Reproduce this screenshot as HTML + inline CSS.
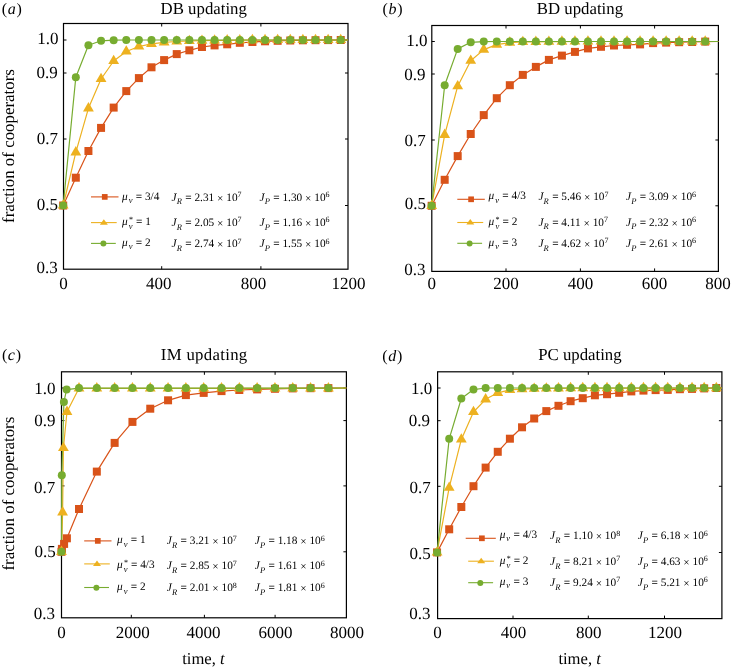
<!DOCTYPE html>
<html><head><meta charset="utf-8"><style>
html,body{margin:0;padding:0;background:#fff;}
svg{display:block;will-change:transform;}
text{font-family:"Liberation Serif",serif;fill:#000;-webkit-font-smoothing:antialiased;text-rendering:geometricPrecision;}
</style></head><body>
<svg width="731" height="668" viewBox="0 0 731 668">
<rect width="731" height="668" fill="#fff"/>
<rect x="63.5" y="23.5" width="284.5" height="245.7" fill="none" stroke="#000" stroke-width="1.2"/>
<path d="M63.5,40.0h3M348,40.0h-3" stroke="#000" stroke-width="1"/>
<path d="M63.5,73.0h3M348,73.0h-3" stroke="#000" stroke-width="1"/>
<path d="M63.5,139.0h3M348,139.0h-3" stroke="#000" stroke-width="1"/>
<path d="M63.5,205.5h3M348,205.5h-3" stroke="#000" stroke-width="1"/>
<path d="M161.7,269.2v-3M161.7,23.5v3" stroke="#000" stroke-width="1"/>
<path d="M260.9,269.2v-3M260.9,23.5v3" stroke="#000" stroke-width="1"/>
<text x="58.4" y="43.9" font-size="17" text-anchor="end" >1.0</text>
<text x="57.8" y="77.80000000000001" font-size="17" text-anchor="end" >0.9</text>
<text x="58.0" y="144.1" font-size="17" text-anchor="end" >0.7</text>
<text x="58.0" y="210.0" font-size="17" text-anchor="end" >0.5</text>
<text x="57.8" y="272.79999999999995" font-size="17" text-anchor="end" >0.3</text>
<text x="63.5" y="288.7" font-size="17" text-anchor="middle" >0</text>
<text x="158.65" y="288.7" font-size="17" text-anchor="middle" >400</text>
<text x="253.4" y="288.7" font-size="17" text-anchor="middle" >800</text>
<text x="348.5" y="288.7" font-size="17" text-anchor="middle" >1200</text>
<polyline points="63.20,205.50 75.81,177.70 88.43,151.00 101.05,127.90 113.66,107.60 126.28,91.10 138.89,78.10 151.50,67.30 164.12,60.10 176.74,54.10 189.35,50.30 201.97,47.00 214.58,45.40 227.19,44.30 239.81,42.80 252.43,42.00 265.04,41.30 277.66,40.80 290.27,40.50 302.88,40.30 315.50,40.20 328.12,40.10 340.73,40.00 348.00,40.00" fill="none" stroke="#D95319" stroke-width="1.2" stroke-linejoin="round"/>
<polyline points="63.20,205.50 75.81,152.30 88.43,108.30 101.05,79.00 113.66,61.00 126.28,51.50 138.89,46.50 151.50,43.80 164.12,42.30 176.74,41.50 189.35,41.00 201.97,40.70 214.58,40.50 227.19,40.30 239.81,40.20 252.43,40.10 265.04,40.10 277.66,40.00 290.27,40.00 302.88,40.00 315.50,40.00 328.12,40.00 340.73,40.00 348.00,40.00" fill="none" stroke="#EDB120" stroke-width="1.2" stroke-linejoin="round"/>
<polyline points="63.20,205.50 75.81,77.30 88.43,45.30 101.05,40.80 113.66,40.20 126.28,40.00 138.89,40.00 151.50,40.00 164.12,40.00 176.74,40.00 189.35,40.00 201.97,40.00 214.58,40.00 227.19,40.00 239.81,40.00 252.43,40.00 265.04,40.00 277.66,40.00 290.27,40.00 302.88,40.00 315.50,40.00 328.12,40.00 340.73,40.00 348.00,40.00" fill="none" stroke="#77AC30" stroke-width="1.2" stroke-linejoin="round"/>
<rect x="59.20" y="201.50" width="8" height="8" fill="#D95319"/>
<rect x="71.81" y="173.70" width="8" height="8" fill="#D95319"/>
<rect x="84.43" y="147.00" width="8" height="8" fill="#D95319"/>
<rect x="97.05" y="123.90" width="8" height="8" fill="#D95319"/>
<rect x="109.66" y="103.60" width="8" height="8" fill="#D95319"/>
<rect x="122.28" y="87.10" width="8" height="8" fill="#D95319"/>
<rect x="134.89" y="74.10" width="8" height="8" fill="#D95319"/>
<rect x="147.50" y="63.30" width="8" height="8" fill="#D95319"/>
<rect x="160.12" y="56.10" width="8" height="8" fill="#D95319"/>
<rect x="172.74" y="50.10" width="8" height="8" fill="#D95319"/>
<rect x="185.35" y="46.30" width="8" height="8" fill="#D95319"/>
<rect x="197.97" y="43.00" width="8" height="8" fill="#D95319"/>
<rect x="210.58" y="41.40" width="8" height="8" fill="#D95319"/>
<rect x="223.19" y="40.30" width="8" height="8" fill="#D95319"/>
<rect x="235.81" y="38.80" width="8" height="8" fill="#D95319"/>
<rect x="248.43" y="38.00" width="8" height="8" fill="#D95319"/>
<rect x="261.04" y="37.30" width="8" height="8" fill="#D95319"/>
<rect x="273.66" y="36.80" width="8" height="8" fill="#D95319"/>
<rect x="286.27" y="36.50" width="8" height="8" fill="#D95319"/>
<rect x="298.88" y="36.30" width="8" height="8" fill="#D95319"/>
<rect x="311.50" y="36.20" width="8" height="8" fill="#D95319"/>
<rect x="324.12" y="36.10" width="8" height="8" fill="#D95319"/>
<rect x="336.73" y="36.00" width="8" height="8" fill="#D95319"/>
<polygon points="63.20,199.25 57.79,208.62 68.61,208.62" fill="#EDB120"/>
<polygon points="75.81,146.05 70.40,155.43 81.23,155.43" fill="#EDB120"/>
<polygon points="88.43,102.05 83.02,111.42 93.84,111.42" fill="#EDB120"/>
<polygon points="101.05,72.75 95.63,82.12 106.46,82.12" fill="#EDB120"/>
<polygon points="113.66,54.75 108.25,64.12 119.07,64.12" fill="#EDB120"/>
<polygon points="126.28,45.25 120.86,54.62 131.69,54.62" fill="#EDB120"/>
<polygon points="138.89,40.25 133.48,49.62 144.30,49.62" fill="#EDB120"/>
<polygon points="151.50,37.55 146.09,46.92 156.92,46.92" fill="#EDB120"/>
<polygon points="164.12,36.05 158.71,45.42 169.53,45.42" fill="#EDB120"/>
<polygon points="176.74,35.25 171.32,44.62 182.15,44.62" fill="#EDB120"/>
<polygon points="189.35,34.75 183.94,44.12 194.76,44.12" fill="#EDB120"/>
<polygon points="201.97,34.45 196.55,43.83 207.38,43.83" fill="#EDB120"/>
<polygon points="214.58,34.25 209.17,43.62 219.99,43.62" fill="#EDB120"/>
<polygon points="227.19,34.05 221.78,43.42 232.61,43.42" fill="#EDB120"/>
<polygon points="239.81,33.95 234.40,43.33 245.22,43.33" fill="#EDB120"/>
<polygon points="252.43,33.85 247.01,43.23 257.84,43.23" fill="#EDB120"/>
<polygon points="265.04,33.85 259.63,43.23 270.45,43.23" fill="#EDB120"/>
<polygon points="277.66,33.75 272.24,43.12 283.07,43.12" fill="#EDB120"/>
<polygon points="290.27,33.75 284.86,43.12 295.68,43.12" fill="#EDB120"/>
<polygon points="302.88,33.75 297.47,43.12 308.30,43.12" fill="#EDB120"/>
<polygon points="315.50,33.75 310.09,43.12 320.91,43.12" fill="#EDB120"/>
<polygon points="328.12,33.75 322.70,43.12 333.53,43.12" fill="#EDB120"/>
<polygon points="340.73,33.75 335.32,43.12 346.14,43.12" fill="#EDB120"/>
<circle cx="63.20" cy="205.50" r="4" fill="#77AC30"/>
<circle cx="75.81" cy="77.30" r="4" fill="#77AC30"/>
<circle cx="88.43" cy="45.30" r="4" fill="#77AC30"/>
<circle cx="101.05" cy="40.80" r="4" fill="#77AC30"/>
<circle cx="113.66" cy="40.20" r="4" fill="#77AC30"/>
<circle cx="126.28" cy="40.00" r="4" fill="#77AC30"/>
<circle cx="138.89" cy="40.00" r="4" fill="#77AC30"/>
<circle cx="151.50" cy="40.00" r="4" fill="#77AC30"/>
<circle cx="164.12" cy="40.00" r="4" fill="#77AC30"/>
<circle cx="176.74" cy="40.00" r="4" fill="#77AC30"/>
<circle cx="189.35" cy="40.00" r="4" fill="#77AC30"/>
<circle cx="201.97" cy="40.00" r="4" fill="#77AC30"/>
<circle cx="214.58" cy="40.00" r="4" fill="#77AC30"/>
<circle cx="227.19" cy="40.00" r="4" fill="#77AC30"/>
<circle cx="239.81" cy="40.00" r="4" fill="#77AC30"/>
<circle cx="252.43" cy="40.00" r="4" fill="#77AC30"/>
<circle cx="265.04" cy="40.00" r="4" fill="#77AC30"/>
<circle cx="277.66" cy="40.00" r="4" fill="#77AC30"/>
<circle cx="290.27" cy="40.00" r="4" fill="#77AC30"/>
<circle cx="302.88" cy="40.00" r="4" fill="#77AC30"/>
<circle cx="315.50" cy="40.00" r="4" fill="#77AC30"/>
<circle cx="328.12" cy="40.00" r="4" fill="#77AC30"/>
<circle cx="340.73" cy="40.00" r="4" fill="#77AC30"/>
<line x1="91" y1="196.9" x2="118.5" y2="196.9" stroke="#D95319" stroke-width="1.1"/>
<rect x="101.90" y="194.05" width="5.7" height="5.7" fill="#D95319"/>
<line x1="91" y1="222.6" x2="116.7" y2="222.6" stroke="#EDB120" stroke-width="1.1"/>
<polygon points="103.85,219.20 99.85,224.70 107.85,224.70" fill="#EDB120"/>
<line x1="91" y1="243.4" x2="115.8" y2="243.4" stroke="#77AC30" stroke-width="1.1"/>
<circle cx="103.40" cy="243.60" r="3.0" fill="#77AC30"/>
<text x="122" y="199.60000000000002" font-size="11.3"><tspan font-style="italic">μ</tspan><tspan font-style="italic" font-size="8.5" dx="1.0" dy="3.3">v</tspan><tspan dy="-3.3" dx="0.5"> = 3/4</tspan></text>
<text x="171.5" y="200.5" font-size="11.3"><tspan font-style="italic">J</tspan><tspan font-style="italic" font-size="8.5" dx="0.2" dy="3.8">R</tspan><tspan dy="-3.8" dx="0.5"> = 2.31 </tspan><tspan dy="1">×</tspan><tspan dy="-1"> 10</tspan><tspan font-size="8" dy="-3.4">7</tspan></text>
<text x="259.5" y="200.5" font-size="11.3"><tspan font-style="italic">J</tspan><tspan font-style="italic" font-size="8.5" dx="0.2" dy="3.8">P</tspan><tspan dy="-3.8" dx="0.5"> = 1.30 </tspan><tspan dy="1">×</tspan><tspan dy="-1"> 10</tspan><tspan font-size="8" dy="-3.4">6</tspan></text>
<text x="122" y="224.9" font-size="11.3"><tspan font-style="italic">μ</tspan><tspan font-size="8" dx="1.3" dy="-3.2">*</tspan><tspan font-style="italic" font-size="8.5" dx="-4.1" dy="7">v</tspan><tspan dy="-3.8" dx="0.5"> = 1</tspan></text>
<text x="171.5" y="225.79999999999998" font-size="11.3"><tspan font-style="italic">J</tspan><tspan font-style="italic" font-size="8.5" dx="0.2" dy="3.8">R</tspan><tspan dy="-3.8" dx="0.5"> = 2.05 </tspan><tspan dy="1">×</tspan><tspan dy="-1"> 10</tspan><tspan font-size="8" dy="-3.4">7</tspan></text>
<text x="259.5" y="225.79999999999998" font-size="11.3"><tspan font-style="italic">J</tspan><tspan font-style="italic" font-size="8.5" dx="0.2" dy="3.8">P</tspan><tspan dy="-3.8" dx="0.5"> = 1.16 </tspan><tspan dy="1">×</tspan><tspan dy="-1"> 10</tspan><tspan font-size="8" dy="-3.4">6</tspan></text>
<text x="122" y="246.0" font-size="11.3"><tspan font-style="italic">μ</tspan><tspan font-style="italic" font-size="8.5" dx="1.0" dy="3.3">v</tspan><tspan dy="-3.3" dx="0.5"> = 2</tspan></text>
<text x="171.5" y="246.89999999999998" font-size="11.3"><tspan font-style="italic">J</tspan><tspan font-style="italic" font-size="8.5" dx="0.2" dy="3.8">R</tspan><tspan dy="-3.8" dx="0.5"> = 2.74 </tspan><tspan dy="1">×</tspan><tspan dy="-1"> 10</tspan><tspan font-size="8" dy="-3.4">7</tspan></text>
<text x="259.5" y="246.89999999999998" font-size="11.3"><tspan font-style="italic">J</tspan><tspan font-style="italic" font-size="8.5" dx="0.2" dy="3.8">P</tspan><tspan dy="-3.8" dx="0.5"> = 1.55 </tspan><tspan dy="1">×</tspan><tspan dy="-1"> 10</tspan><tspan font-size="8" dy="-3.4">6</tspan></text>
<text x="160.6" y="14.0" font-size="16.8" text-anchor="start" >DB updating</text>
<text x="1.8" y="14.1" font-size="16">(<tspan font-style="italic" dx="0.6">a</tspan><tspan dx="0.8">)</tspan></text>
<text transform="translate(14.3,146) rotate(-90)" font-size="16.9" text-anchor="middle">fraction of cooperators</text>
<rect x="431.8" y="25.5" width="286.59999999999997" height="245.89999999999998" fill="none" stroke="#000" stroke-width="1.2"/>
<path d="M431.8,41.5h3M718.4,41.5h-3" stroke="#000" stroke-width="1"/>
<path d="M431.8,74.0h3M718.4,74.0h-3" stroke="#000" stroke-width="1"/>
<path d="M431.8,140.0h3M718.4,140.0h-3" stroke="#000" stroke-width="1"/>
<path d="M431.8,205.8h3M718.4,205.8h-3" stroke="#000" stroke-width="1"/>
<path d="M506,271.4v-3M506,25.5v3" stroke="#000" stroke-width="1"/>
<path d="M580.4,271.4v-3M580.4,25.5v3" stroke="#000" stroke-width="1"/>
<path d="M654.6,271.4v-3M654.6,25.5v3" stroke="#000" stroke-width="1"/>
<text x="427.4" y="45.699999999999996" font-size="17" text-anchor="end" >1.0</text>
<text x="425.59999999999997" y="80.0" font-size="17" text-anchor="end" >0.9</text>
<text x="425.7" y="146.1" font-size="17" text-anchor="end" >0.7</text>
<text x="425.9" y="209.3" font-size="17" text-anchor="end" >0.5</text>
<text x="425.59999999999997" y="274.5" font-size="17" text-anchor="end" >0.3</text>
<text x="431.8" y="288.8" font-size="17" text-anchor="middle" >0</text>
<text x="506" y="288.8" font-size="17" text-anchor="middle" >200</text>
<text x="580.4" y="288.8" font-size="17" text-anchor="middle" >400</text>
<text x="654.6" y="288.8" font-size="17" text-anchor="middle" >600</text>
<text x="718.1" y="288.8" font-size="17" text-anchor="middle" >800</text>
<polyline points="431.65,205.80 444.68,179.80 457.70,156.10 470.73,134.00 483.75,115.10 496.78,98.20 509.81,85.20 522.83,74.90 535.86,66.90 548.88,59.90 561.91,55.60 574.94,51.90 587.96,48.40 600.99,46.80 614.01,45.50 627.04,44.80 640.07,44.40 653.09,43.10 666.12,42.60 679.14,42.20 692.17,42.00 705.20,41.60 718.40,41.50" fill="none" stroke="#D95319" stroke-width="1.2" stroke-linejoin="round"/>
<polyline points="431.65,205.80 444.68,134.80 457.70,86.20 470.73,60.70 483.75,49.60 496.78,44.60 509.81,42.60 522.83,42.00 535.86,41.80 548.88,41.70 561.91,41.60 574.94,41.50 587.96,41.50 600.99,41.50 614.01,41.50 627.04,41.50 640.07,41.50 653.09,41.50 666.12,41.50 679.14,41.50 692.17,41.50 705.20,41.50 718.40,41.50" fill="none" stroke="#EDB120" stroke-width="1.2" stroke-linejoin="round"/>
<polyline points="431.65,205.80 444.68,85.30 457.70,48.90 470.73,42.30 483.75,41.60 496.78,41.50 509.81,41.50 522.83,41.50 535.86,41.50 548.88,41.50 561.91,41.50 574.94,41.50 587.96,41.50 600.99,41.50 614.01,41.50 627.04,41.50 640.07,41.50 653.09,41.50 666.12,41.50 679.14,41.50 692.17,41.50 705.20,41.50 718.40,41.50" fill="none" stroke="#77AC30" stroke-width="1.2" stroke-linejoin="round"/>
<rect x="427.65" y="201.80" width="8" height="8" fill="#D95319"/>
<rect x="440.68" y="175.80" width="8" height="8" fill="#D95319"/>
<rect x="453.70" y="152.10" width="8" height="8" fill="#D95319"/>
<rect x="466.73" y="130.00" width="8" height="8" fill="#D95319"/>
<rect x="479.75" y="111.10" width="8" height="8" fill="#D95319"/>
<rect x="492.78" y="94.20" width="8" height="8" fill="#D95319"/>
<rect x="505.81" y="81.20" width="8" height="8" fill="#D95319"/>
<rect x="518.83" y="70.90" width="8" height="8" fill="#D95319"/>
<rect x="531.86" y="62.90" width="8" height="8" fill="#D95319"/>
<rect x="544.88" y="55.90" width="8" height="8" fill="#D95319"/>
<rect x="557.91" y="51.60" width="8" height="8" fill="#D95319"/>
<rect x="570.94" y="47.90" width="8" height="8" fill="#D95319"/>
<rect x="583.96" y="44.40" width="8" height="8" fill="#D95319"/>
<rect x="596.99" y="42.80" width="8" height="8" fill="#D95319"/>
<rect x="610.01" y="41.50" width="8" height="8" fill="#D95319"/>
<rect x="623.04" y="40.80" width="8" height="8" fill="#D95319"/>
<rect x="636.07" y="40.40" width="8" height="8" fill="#D95319"/>
<rect x="649.09" y="39.10" width="8" height="8" fill="#D95319"/>
<rect x="662.12" y="38.60" width="8" height="8" fill="#D95319"/>
<rect x="675.14" y="38.20" width="8" height="8" fill="#D95319"/>
<rect x="688.17" y="38.00" width="8" height="8" fill="#D95319"/>
<rect x="701.20" y="37.60" width="8" height="8" fill="#D95319"/>
<polygon points="431.65,199.55 426.24,208.93 437.06,208.93" fill="#EDB120"/>
<polygon points="444.68,128.55 439.26,137.93 450.09,137.93" fill="#EDB120"/>
<polygon points="457.70,79.95 452.29,89.33 463.11,89.33" fill="#EDB120"/>
<polygon points="470.73,54.45 465.32,63.83 476.14,63.83" fill="#EDB120"/>
<polygon points="483.75,43.35 478.34,52.73 489.17,52.73" fill="#EDB120"/>
<polygon points="496.78,38.35 491.37,47.73 502.19,47.73" fill="#EDB120"/>
<polygon points="509.81,36.35 504.39,45.73 515.22,45.73" fill="#EDB120"/>
<polygon points="522.83,35.75 517.42,45.12 528.24,45.12" fill="#EDB120"/>
<polygon points="535.86,35.55 530.45,44.92 541.27,44.92" fill="#EDB120"/>
<polygon points="548.88,35.45 543.47,44.83 554.30,44.83" fill="#EDB120"/>
<polygon points="561.91,35.35 556.50,44.73 567.32,44.73" fill="#EDB120"/>
<polygon points="574.94,35.25 569.52,44.62 580.35,44.62" fill="#EDB120"/>
<polygon points="587.96,35.25 582.55,44.62 593.37,44.62" fill="#EDB120"/>
<polygon points="600.99,35.25 595.58,44.62 606.40,44.62" fill="#EDB120"/>
<polygon points="614.01,35.25 608.60,44.62 619.43,44.62" fill="#EDB120"/>
<polygon points="627.04,35.25 621.63,44.62 632.45,44.62" fill="#EDB120"/>
<polygon points="640.07,35.25 634.65,44.62 645.48,44.62" fill="#EDB120"/>
<polygon points="653.09,35.25 647.68,44.62 658.50,44.62" fill="#EDB120"/>
<polygon points="666.12,35.25 660.71,44.62 671.53,44.62" fill="#EDB120"/>
<polygon points="679.14,35.25 673.73,44.62 684.56,44.62" fill="#EDB120"/>
<polygon points="692.17,35.25 686.76,44.62 697.58,44.62" fill="#EDB120"/>
<polygon points="705.20,35.25 699.78,44.62 710.61,44.62" fill="#EDB120"/>
<circle cx="431.65" cy="205.80" r="4" fill="#77AC30"/>
<circle cx="444.68" cy="85.30" r="4" fill="#77AC30"/>
<circle cx="457.70" cy="48.90" r="4" fill="#77AC30"/>
<circle cx="470.73" cy="42.30" r="4" fill="#77AC30"/>
<circle cx="483.75" cy="41.60" r="4" fill="#77AC30"/>
<circle cx="496.78" cy="41.50" r="4" fill="#77AC30"/>
<circle cx="509.81" cy="41.50" r="4" fill="#77AC30"/>
<circle cx="522.83" cy="41.50" r="4" fill="#77AC30"/>
<circle cx="535.86" cy="41.50" r="4" fill="#77AC30"/>
<circle cx="548.88" cy="41.50" r="4" fill="#77AC30"/>
<circle cx="561.91" cy="41.50" r="4" fill="#77AC30"/>
<circle cx="574.94" cy="41.50" r="4" fill="#77AC30"/>
<circle cx="587.96" cy="41.50" r="4" fill="#77AC30"/>
<circle cx="600.99" cy="41.50" r="4" fill="#77AC30"/>
<circle cx="614.01" cy="41.50" r="4" fill="#77AC30"/>
<circle cx="627.04" cy="41.50" r="4" fill="#77AC30"/>
<circle cx="640.07" cy="41.50" r="4" fill="#77AC30"/>
<circle cx="653.09" cy="41.50" r="4" fill="#77AC30"/>
<circle cx="666.12" cy="41.50" r="4" fill="#77AC30"/>
<circle cx="679.14" cy="41.50" r="4" fill="#77AC30"/>
<circle cx="692.17" cy="41.50" r="4" fill="#77AC30"/>
<circle cx="705.20" cy="41.50" r="4" fill="#77AC30"/>
<line x1="457.3" y1="199.3" x2="484.8" y2="199.3" stroke="#D95319" stroke-width="1.1"/>
<rect x="468.25" y="196.45" width="5.7" height="5.7" fill="#D95319"/>
<line x1="457.3" y1="222.5" x2="483.2" y2="222.5" stroke="#EDB120" stroke-width="1.1"/>
<polygon points="470.30,219.10 466.30,224.60 474.30,224.60" fill="#EDB120"/>
<line x1="457.3" y1="243.3" x2="482.1" y2="243.3" stroke="#77AC30" stroke-width="1.1"/>
<circle cx="469.60" cy="243.50" r="3.0" fill="#77AC30"/>
<text x="488.6" y="199.3" font-size="11.3"><tspan font-style="italic">μ</tspan><tspan font-style="italic" font-size="8.5" dx="1.0" dy="3.3">v</tspan><tspan dy="-3.3" dx="0.5"> = 4/3</tspan></text>
<text x="538.4" y="200.2" font-size="11.3"><tspan font-style="italic">J</tspan><tspan font-style="italic" font-size="8.5" dx="0.2" dy="3.8">R</tspan><tspan dy="-3.8" dx="0.5"> = 5.46 </tspan><tspan dy="1">×</tspan><tspan dy="-1"> 10</tspan><tspan font-size="8" dy="-3.4">7</tspan></text>
<text x="626" y="200.2" font-size="11.3"><tspan font-style="italic">J</tspan><tspan font-style="italic" font-size="8.5" dx="0.2" dy="3.8">P</tspan><tspan dy="-3.8" dx="0.5"> = 3.09 </tspan><tspan dy="1">×</tspan><tspan dy="-1"> 10</tspan><tspan font-size="8" dy="-3.4">6</tspan></text>
<text x="488.6" y="224.70000000000002" font-size="11.3"><tspan font-style="italic">μ</tspan><tspan font-size="8" dx="1.3" dy="-3.2">*</tspan><tspan font-style="italic" font-size="8.5" dx="-4.1" dy="7">v</tspan><tspan dy="-3.8" dx="0.5"> = 2</tspan></text>
<text x="538.4" y="225.6" font-size="11.3"><tspan font-style="italic">J</tspan><tspan font-style="italic" font-size="8.5" dx="0.2" dy="3.8">R</tspan><tspan dy="-3.8" dx="0.5"> = 4.11 </tspan><tspan dy="1">×</tspan><tspan dy="-1"> 10</tspan><tspan font-size="8" dy="-3.4">7</tspan></text>
<text x="626" y="225.6" font-size="11.3"><tspan font-style="italic">J</tspan><tspan font-style="italic" font-size="8.5" dx="0.2" dy="3.8">P</tspan><tspan dy="-3.8" dx="0.5"> = 2.32 </tspan><tspan dy="1">×</tspan><tspan dy="-1"> 10</tspan><tspan font-size="8" dy="-3.4">6</tspan></text>
<text x="488.6" y="245.8" font-size="11.3"><tspan font-style="italic">μ</tspan><tspan font-style="italic" font-size="8.5" dx="1.0" dy="3.3">v</tspan><tspan dy="-3.3" dx="0.5"> = 3</tspan></text>
<text x="538.4" y="246.7" font-size="11.3"><tspan font-style="italic">J</tspan><tspan font-style="italic" font-size="8.5" dx="0.2" dy="3.8">R</tspan><tspan dy="-3.8" dx="0.5"> = 4.62 </tspan><tspan dy="1">×</tspan><tspan dy="-1"> 10</tspan><tspan font-size="8" dy="-3.4">7</tspan></text>
<text x="626" y="246.7" font-size="11.3"><tspan font-style="italic">J</tspan><tspan font-style="italic" font-size="8.5" dx="0.2" dy="3.8">P</tspan><tspan dy="-3.8" dx="0.5"> = 2.61 </tspan><tspan dy="1">×</tspan><tspan dy="-1"> 10</tspan><tspan font-size="8" dy="-3.4">6</tspan></text>
<text x="536.8" y="14.0" font-size="16.8" text-anchor="start" >BD updating</text>
<text x="382.6" y="14.2" font-size="16">(<tspan font-style="italic" dx="0.6">b</tspan><tspan dx="0.8">)</tspan></text>
<rect x="61.5" y="371.8" width="284.9" height="245.99999999999994" fill="none" stroke="#000" stroke-width="1.2"/>
<path d="M61.5,388.0h3M346.4,388.0h-3" stroke="#000" stroke-width="1"/>
<path d="M61.5,420.6h3M346.4,420.6h-3" stroke="#000" stroke-width="1"/>
<path d="M61.5,485.9h3M346.4,485.9h-3" stroke="#000" stroke-width="1"/>
<path d="M61.5,551.8h3M346.4,551.8h-3" stroke="#000" stroke-width="1"/>
<path d="M131.3,617.8v-3M131.3,371.8v3" stroke="#000" stroke-width="1"/>
<path d="M204.4,617.8v-3M204.4,371.8v3" stroke="#000" stroke-width="1"/>
<path d="M275.1,617.8v-3M275.1,371.8v3" stroke="#000" stroke-width="1"/>
<text x="55.6" y="394.2" font-size="17" text-anchor="end" >1.0</text>
<text x="55.4" y="425.7" font-size="17" text-anchor="end" >0.9</text>
<text x="55.3" y="492.5" font-size="17" text-anchor="end" >0.7</text>
<text x="55.699999999999996" y="557.0" font-size="17" text-anchor="end" >0.5</text>
<text x="55.0" y="618.6999999999999" font-size="17" text-anchor="end" >0.3</text>
<text x="61.6" y="637.5" font-size="17" text-anchor="middle" >0</text>
<text x="132.8" y="637.5" font-size="17" text-anchor="middle" >2000</text>
<text x="203.6" y="637.5" font-size="17" text-anchor="middle" >4000</text>
<text x="275.5" y="637.5" font-size="17" text-anchor="middle" >6000</text>
<text x="346.9" y="637.5" font-size="17" text-anchor="middle" >8000</text>
<polyline points="61.50,551.80 61.90,548.90 64.10,543.90 66.90,538.30 79.01,509.00 96.82,471.60 114.64,442.90 132.45,421.90 150.26,408.70 168.07,400.30 185.88,395.10 203.70,392.90 221.51,391.10 239.32,390.00 257.13,389.40 274.94,388.80 292.76,388.40 310.57,388.20 328.38,388.10 346.40,388.00" fill="none" stroke="#D95319" stroke-width="1.2" stroke-linejoin="round"/>
<polyline points="61.50,551.80 62.60,512.30 63.40,448.00 67.00,411.80 79.01,388.30 96.82,388.30 114.64,388.30 132.45,388.30 150.26,388.30 168.07,388.30 185.88,388.30 203.70,388.30 221.51,388.30 239.32,388.30 257.13,388.30 274.94,388.30 292.76,388.30 310.57,388.30 328.38,388.30 346.40,388.00" fill="none" stroke="#EDB120" stroke-width="1.2" stroke-linejoin="round"/>
<polyline points="61.50,551.80 61.80,475.20 63.90,401.90 66.60,389.60 79.01,388.10 96.82,388.10 114.64,388.10 132.45,388.10 150.26,388.10 168.07,388.10 185.88,388.10 203.70,388.10 221.51,388.10 239.32,388.10 257.13,388.10 274.94,388.10 292.76,388.10 310.57,388.10 328.38,388.10 346.40,388.00" fill="none" stroke="#77AC30" stroke-width="1.2" stroke-linejoin="round"/>
<rect x="57.50" y="547.80" width="8" height="8" fill="#D95319"/>
<rect x="57.90" y="544.90" width="8" height="8" fill="#D95319"/>
<rect x="60.10" y="539.90" width="8" height="8" fill="#D95319"/>
<rect x="62.90" y="534.30" width="8" height="8" fill="#D95319"/>
<rect x="75.01" y="505.00" width="8" height="8" fill="#D95319"/>
<rect x="92.82" y="467.60" width="8" height="8" fill="#D95319"/>
<rect x="110.64" y="438.90" width="8" height="8" fill="#D95319"/>
<rect x="128.45" y="417.90" width="8" height="8" fill="#D95319"/>
<rect x="146.26" y="404.70" width="8" height="8" fill="#D95319"/>
<rect x="164.07" y="396.30" width="8" height="8" fill="#D95319"/>
<rect x="181.88" y="391.10" width="8" height="8" fill="#D95319"/>
<rect x="199.70" y="388.90" width="8" height="8" fill="#D95319"/>
<rect x="217.51" y="387.10" width="8" height="8" fill="#D95319"/>
<rect x="235.32" y="386.00" width="8" height="8" fill="#D95319"/>
<rect x="253.13" y="385.40" width="8" height="8" fill="#D95319"/>
<rect x="270.94" y="384.80" width="8" height="8" fill="#D95319"/>
<rect x="288.76" y="384.40" width="8" height="8" fill="#D95319"/>
<rect x="306.57" y="384.20" width="8" height="8" fill="#D95319"/>
<rect x="324.38" y="384.10" width="8" height="8" fill="#D95319"/>
<polygon points="61.50,545.55 56.09,554.92 66.91,554.92" fill="#EDB120"/>
<polygon points="62.60,506.05 57.19,515.42 68.01,515.42" fill="#EDB120"/>
<polygon points="63.40,441.75 57.99,451.12 68.81,451.12" fill="#EDB120"/>
<polygon points="67.00,405.55 61.59,414.93 72.41,414.93" fill="#EDB120"/>
<polygon points="79.01,382.05 73.60,391.43 84.42,391.43" fill="#EDB120"/>
<polygon points="96.82,382.05 91.41,391.43 102.24,391.43" fill="#EDB120"/>
<polygon points="114.64,382.05 109.22,391.43 120.05,391.43" fill="#EDB120"/>
<polygon points="132.45,382.05 127.04,391.43 137.86,391.43" fill="#EDB120"/>
<polygon points="150.26,382.05 144.85,391.43 155.67,391.43" fill="#EDB120"/>
<polygon points="168.07,382.05 162.66,391.43 173.48,391.43" fill="#EDB120"/>
<polygon points="185.88,382.05 180.47,391.43 191.30,391.43" fill="#EDB120"/>
<polygon points="203.70,382.05 198.28,391.43 209.11,391.43" fill="#EDB120"/>
<polygon points="221.51,382.05 216.10,391.43 226.92,391.43" fill="#EDB120"/>
<polygon points="239.32,382.05 233.91,391.43 244.73,391.43" fill="#EDB120"/>
<polygon points="257.13,382.05 251.72,391.43 262.54,391.43" fill="#EDB120"/>
<polygon points="274.94,382.05 269.53,391.43 280.36,391.43" fill="#EDB120"/>
<polygon points="292.76,382.05 287.34,391.43 298.17,391.43" fill="#EDB120"/>
<polygon points="310.57,382.05 305.16,391.43 315.98,391.43" fill="#EDB120"/>
<polygon points="328.38,382.05 322.97,391.43 333.79,391.43" fill="#EDB120"/>
<circle cx="61.50" cy="551.80" r="4" fill="#77AC30"/>
<circle cx="61.80" cy="475.20" r="4" fill="#77AC30"/>
<circle cx="63.90" cy="401.90" r="4" fill="#77AC30"/>
<circle cx="66.60" cy="389.60" r="4" fill="#77AC30"/>
<circle cx="79.01" cy="388.10" r="4" fill="#77AC30"/>
<circle cx="96.82" cy="388.10" r="4" fill="#77AC30"/>
<circle cx="114.64" cy="388.10" r="4" fill="#77AC30"/>
<circle cx="132.45" cy="388.10" r="4" fill="#77AC30"/>
<circle cx="150.26" cy="388.10" r="4" fill="#77AC30"/>
<circle cx="168.07" cy="388.10" r="4" fill="#77AC30"/>
<circle cx="185.88" cy="388.10" r="4" fill="#77AC30"/>
<circle cx="203.70" cy="388.10" r="4" fill="#77AC30"/>
<circle cx="221.51" cy="388.10" r="4" fill="#77AC30"/>
<circle cx="239.32" cy="388.10" r="4" fill="#77AC30"/>
<circle cx="257.13" cy="388.10" r="4" fill="#77AC30"/>
<circle cx="274.94" cy="388.10" r="4" fill="#77AC30"/>
<circle cx="292.76" cy="388.10" r="4" fill="#77AC30"/>
<circle cx="310.57" cy="388.10" r="4" fill="#77AC30"/>
<circle cx="328.38" cy="388.10" r="4" fill="#77AC30"/>
<line x1="84.2" y1="540.9" x2="111.5" y2="540.9" stroke="#D95319" stroke-width="1.1"/>
<rect x="94.95" y="538.05" width="5.7" height="5.7" fill="#D95319"/>
<line x1="84.2" y1="563.9" x2="109.8" y2="563.9" stroke="#EDB120" stroke-width="1.1"/>
<polygon points="97.00,560.50 93.00,566.00 101.00,566.00" fill="#EDB120"/>
<line x1="84.2" y1="587.5" x2="109.0" y2="587.5" stroke="#77AC30" stroke-width="1.1"/>
<circle cx="96.40" cy="587.70" r="3.0" fill="#77AC30"/>
<text x="117" y="543.3" font-size="11.3"><tspan font-style="italic">μ</tspan><tspan font-style="italic" font-size="8.5" dx="1.0" dy="3.3">v</tspan><tspan dy="-3.3" dx="0.5"> = 1</tspan></text>
<text x="166.8" y="544.2" font-size="11.3"><tspan font-style="italic">J</tspan><tspan font-style="italic" font-size="8.5" dx="0.2" dy="3.8">R</tspan><tspan dy="-3.8" dx="0.5"> = 3.21 </tspan><tspan dy="1">×</tspan><tspan dy="-1"> 10</tspan><tspan font-size="8" dy="-3.4">7</tspan></text>
<text x="254.7" y="544.2" font-size="11.3"><tspan font-style="italic">J</tspan><tspan font-style="italic" font-size="8.5" dx="0.2" dy="3.8">P</tspan><tspan dy="-3.8" dx="0.5"> = 1.18 </tspan><tspan dy="1">×</tspan><tspan dy="-1"> 10</tspan><tspan font-size="8" dy="-3.4">6</tspan></text>
<text x="117" y="568.0999999999999" font-size="11.3"><tspan font-style="italic">μ</tspan><tspan font-size="8" dx="1.3" dy="-3.2">*</tspan><tspan font-style="italic" font-size="8.5" dx="-4.1" dy="7">v</tspan><tspan dy="-3.8" dx="0.5"> = 4/3</tspan></text>
<text x="166.8" y="569.0" font-size="11.3"><tspan font-style="italic">J</tspan><tspan font-style="italic" font-size="8.5" dx="0.2" dy="3.8">R</tspan><tspan dy="-3.8" dx="0.5"> = 2.85 </tspan><tspan dy="1">×</tspan><tspan dy="-1"> 10</tspan><tspan font-size="8" dy="-3.4">7</tspan></text>
<text x="254.7" y="569.0" font-size="11.3"><tspan font-style="italic">J</tspan><tspan font-style="italic" font-size="8.5" dx="0.2" dy="3.8">P</tspan><tspan dy="-3.8" dx="0.5"> = 1.61 </tspan><tspan dy="1">×</tspan><tspan dy="-1"> 10</tspan><tspan font-size="8" dy="-3.4">6</tspan></text>
<text x="117" y="590.1999999999999" font-size="11.3"><tspan font-style="italic">μ</tspan><tspan font-style="italic" font-size="8.5" dx="1.0" dy="3.3">v</tspan><tspan dy="-3.3" dx="0.5"> = 2</tspan></text>
<text x="166.8" y="591.1" font-size="11.3"><tspan font-style="italic">J</tspan><tspan font-style="italic" font-size="8.5" dx="0.2" dy="3.8">R</tspan><tspan dy="-3.8" dx="0.5"> = 2.01 </tspan><tspan dy="1">×</tspan><tspan dy="-1"> 10</tspan><tspan font-size="8" dy="-3.4">8</tspan></text>
<text x="254.7" y="591.1" font-size="11.3"><tspan font-style="italic">J</tspan><tspan font-style="italic" font-size="8.5" dx="0.2" dy="3.8">P</tspan><tspan dy="-3.8" dx="0.5"> = 1.81 </tspan><tspan dy="1">×</tspan><tspan dy="-1"> 10</tspan><tspan font-size="8" dy="-3.4">6</tspan></text>
<text x="160.8" y="360.3" font-size="16.8" text-anchor="start" letter-spacing="0.3">IM updating</text>
<text x="1.9" y="360.4" font-size="16">(<tspan font-style="italic" dx="0.6">c</tspan><tspan dx="0.8">)</tspan></text>
<text transform="translate(14.3,493.6) rotate(-90)" font-size="16.9" text-anchor="middle">fraction of cooperators</text>
<text x="182.2" y="663.6" font-size="16.6">time, <tspan font-style="italic">t</tspan></text>
<rect x="437.6" y="371.8" width="284.29999999999995" height="246.8" fill="none" stroke="#000" stroke-width="1.2"/>
<path d="M437.6,388.0h3M721.9,388.0h-3" stroke="#000" stroke-width="1"/>
<path d="M437.6,420.7h3M721.9,420.7h-3" stroke="#000" stroke-width="1"/>
<path d="M437.6,486.3h3M721.9,486.3h-3" stroke="#000" stroke-width="1"/>
<path d="M437.6,552.5h3M721.9,552.5h-3" stroke="#000" stroke-width="1"/>
<path d="M513,618.6v-3M513,371.8v3" stroke="#000" stroke-width="1"/>
<path d="M588.3,618.6v-3M588.3,371.8v3" stroke="#000" stroke-width="1"/>
<path d="M664.5,618.6v-3M664.5,371.8v3" stroke="#000" stroke-width="1"/>
<text x="432.2" y="394.0" font-size="17" text-anchor="end" >1.0</text>
<text x="430.09999999999997" y="425.7" font-size="17" text-anchor="end" >0.9</text>
<text x="430.7" y="492.5" font-size="17" text-anchor="end" >0.7</text>
<text x="430.7" y="558.6" font-size="17" text-anchor="end" >0.5</text>
<text x="430.5" y="619.0" font-size="17" text-anchor="end" >0.3</text>
<text x="437.4" y="637.9" font-size="17" text-anchor="middle" >0</text>
<text x="513.5" y="637.9" font-size="17" text-anchor="middle" >400</text>
<text x="588.8" y="637.9" font-size="17" text-anchor="middle" >800</text>
<text x="665.1" y="637.9" font-size="17" text-anchor="middle" >1200</text>
<polyline points="437.05,552.40 449.19,529.30 461.33,507.00 473.48,486.20 485.62,467.60 497.76,451.80 509.90,438.70 522.04,427.30 534.19,418.50 546.33,411.10 558.47,405.80 570.61,401.20 582.75,398.20 594.90,395.30 607.04,394.20 619.18,392.80 631.32,391.40 643.46,390.60 655.61,390.10 667.75,389.90 679.89,389.20 692.03,388.90 704.17,388.40 716.32,388.00 721.90,388.00" fill="none" stroke="#D95319" stroke-width="1.2" stroke-linejoin="round"/>
<polyline points="437.05,552.40 449.19,487.70 461.33,439.40 473.48,412.00 485.62,399.30 497.76,392.80 509.90,389.80 522.04,389.10 534.19,388.70 546.33,388.50 558.47,388.30 570.61,388.10 582.75,388.10 594.90,388.10 607.04,388.10 619.18,388.10 631.32,388.10 643.46,388.10 655.61,388.10 667.75,388.10 679.89,388.10 692.03,388.10 704.17,388.10 716.32,388.10 721.90,388.00" fill="none" stroke="#EDB120" stroke-width="1.2" stroke-linejoin="round"/>
<polyline points="437.05,552.40 449.19,438.80 461.33,398.50 473.48,389.60 485.62,388.00 497.76,388.00 509.90,388.00 522.04,388.00 534.19,388.00 546.33,388.00 558.47,388.00 570.61,388.00 582.75,388.00 594.90,388.00 607.04,388.00 619.18,388.00 631.32,388.00 643.46,388.00 655.61,388.00 667.75,388.00 679.89,388.00 692.03,388.00 704.17,388.00 716.32,388.00 721.90,388.00" fill="none" stroke="#77AC30" stroke-width="1.2" stroke-linejoin="round"/>
<rect x="433.05" y="548.40" width="8" height="8" fill="#D95319"/>
<rect x="445.19" y="525.30" width="8" height="8" fill="#D95319"/>
<rect x="457.33" y="503.00" width="8" height="8" fill="#D95319"/>
<rect x="469.48" y="482.20" width="8" height="8" fill="#D95319"/>
<rect x="481.62" y="463.60" width="8" height="8" fill="#D95319"/>
<rect x="493.76" y="447.80" width="8" height="8" fill="#D95319"/>
<rect x="505.90" y="434.70" width="8" height="8" fill="#D95319"/>
<rect x="518.04" y="423.30" width="8" height="8" fill="#D95319"/>
<rect x="530.19" y="414.50" width="8" height="8" fill="#D95319"/>
<rect x="542.33" y="407.10" width="8" height="8" fill="#D95319"/>
<rect x="554.47" y="401.80" width="8" height="8" fill="#D95319"/>
<rect x="566.61" y="397.20" width="8" height="8" fill="#D95319"/>
<rect x="578.75" y="394.20" width="8" height="8" fill="#D95319"/>
<rect x="590.90" y="391.30" width="8" height="8" fill="#D95319"/>
<rect x="603.04" y="390.20" width="8" height="8" fill="#D95319"/>
<rect x="615.18" y="388.80" width="8" height="8" fill="#D95319"/>
<rect x="627.32" y="387.40" width="8" height="8" fill="#D95319"/>
<rect x="639.46" y="386.60" width="8" height="8" fill="#D95319"/>
<rect x="651.61" y="386.10" width="8" height="8" fill="#D95319"/>
<rect x="663.75" y="385.90" width="8" height="8" fill="#D95319"/>
<rect x="675.89" y="385.20" width="8" height="8" fill="#D95319"/>
<rect x="688.03" y="384.90" width="8" height="8" fill="#D95319"/>
<rect x="700.17" y="384.40" width="8" height="8" fill="#D95319"/>
<rect x="712.32" y="384.00" width="8" height="8" fill="#D95319"/>
<polygon points="437.05,546.15 431.64,555.52 442.46,555.52" fill="#EDB120"/>
<polygon points="449.19,481.45 443.78,490.82 454.60,490.82" fill="#EDB120"/>
<polygon points="461.33,433.15 455.92,442.52 466.75,442.52" fill="#EDB120"/>
<polygon points="473.48,405.75 468.06,415.12 478.89,415.12" fill="#EDB120"/>
<polygon points="485.62,393.05 480.21,402.43 491.03,402.43" fill="#EDB120"/>
<polygon points="497.76,386.55 492.35,395.93 503.17,395.93" fill="#EDB120"/>
<polygon points="509.90,383.55 504.49,392.93 515.31,392.93" fill="#EDB120"/>
<polygon points="522.04,382.85 516.63,392.23 527.46,392.23" fill="#EDB120"/>
<polygon points="534.19,382.45 528.77,391.82 539.60,391.82" fill="#EDB120"/>
<polygon points="546.33,382.25 540.92,391.62 551.74,391.62" fill="#EDB120"/>
<polygon points="558.47,382.05 553.06,391.43 563.88,391.43" fill="#EDB120"/>
<polygon points="570.61,381.85 565.20,391.23 576.02,391.23" fill="#EDB120"/>
<polygon points="582.75,381.85 577.34,391.23 588.17,391.23" fill="#EDB120"/>
<polygon points="594.90,381.85 589.48,391.23 600.31,391.23" fill="#EDB120"/>
<polygon points="607.04,381.85 601.63,391.23 612.45,391.23" fill="#EDB120"/>
<polygon points="619.18,381.85 613.77,391.23 624.59,391.23" fill="#EDB120"/>
<polygon points="631.32,381.85 625.91,391.23 636.73,391.23" fill="#EDB120"/>
<polygon points="643.46,381.85 638.05,391.23 648.88,391.23" fill="#EDB120"/>
<polygon points="655.61,381.85 650.19,391.23 661.02,391.23" fill="#EDB120"/>
<polygon points="667.75,381.85 662.34,391.23 673.16,391.23" fill="#EDB120"/>
<polygon points="679.89,381.85 674.48,391.23 685.30,391.23" fill="#EDB120"/>
<polygon points="692.03,381.85 686.62,391.23 697.44,391.23" fill="#EDB120"/>
<polygon points="704.17,381.85 698.76,391.23 709.59,391.23" fill="#EDB120"/>
<polygon points="716.32,381.85 710.90,391.23 721.73,391.23" fill="#EDB120"/>
<circle cx="437.05" cy="552.40" r="4" fill="#77AC30"/>
<circle cx="449.19" cy="438.80" r="4" fill="#77AC30"/>
<circle cx="461.33" cy="398.50" r="4" fill="#77AC30"/>
<circle cx="473.48" cy="389.60" r="4" fill="#77AC30"/>
<circle cx="485.62" cy="388.00" r="4" fill="#77AC30"/>
<circle cx="497.76" cy="388.00" r="4" fill="#77AC30"/>
<circle cx="509.90" cy="388.00" r="4" fill="#77AC30"/>
<circle cx="522.04" cy="388.00" r="4" fill="#77AC30"/>
<circle cx="534.19" cy="388.00" r="4" fill="#77AC30"/>
<circle cx="546.33" cy="388.00" r="4" fill="#77AC30"/>
<circle cx="558.47" cy="388.00" r="4" fill="#77AC30"/>
<circle cx="570.61" cy="388.00" r="4" fill="#77AC30"/>
<circle cx="582.75" cy="388.00" r="4" fill="#77AC30"/>
<circle cx="594.90" cy="388.00" r="4" fill="#77AC30"/>
<circle cx="607.04" cy="388.00" r="4" fill="#77AC30"/>
<circle cx="619.18" cy="388.00" r="4" fill="#77AC30"/>
<circle cx="631.32" cy="388.00" r="4" fill="#77AC30"/>
<circle cx="643.46" cy="388.00" r="4" fill="#77AC30"/>
<circle cx="655.61" cy="388.00" r="4" fill="#77AC30"/>
<circle cx="667.75" cy="388.00" r="4" fill="#77AC30"/>
<circle cx="679.89" cy="388.00" r="4" fill="#77AC30"/>
<circle cx="692.03" cy="388.00" r="4" fill="#77AC30"/>
<circle cx="704.17" cy="388.00" r="4" fill="#77AC30"/>
<circle cx="716.32" cy="388.00" r="4" fill="#77AC30"/>
<line x1="465.7" y1="538.3" x2="495.8" y2="538.3" stroke="#D95319" stroke-width="1.1"/>
<rect x="479.05" y="535.45" width="5.7" height="5.7" fill="#D95319"/>
<line x1="468.2" y1="561.2" x2="493.9" y2="561.2" stroke="#EDB120" stroke-width="1.1"/>
<polygon points="481.20,557.80 477.20,563.30 485.20,563.30" fill="#EDB120"/>
<line x1="468.2" y1="582.7" x2="493.1" y2="582.7" stroke="#77AC30" stroke-width="1.1"/>
<circle cx="480.30" cy="582.90" r="3.0" fill="#77AC30"/>
<text x="499.7" y="538.0999999999999" font-size="11.3"><tspan font-style="italic">μ</tspan><tspan font-style="italic" font-size="8.5" dx="1.0" dy="3.3">v</tspan><tspan dy="-3.3" dx="0.5"> = 4/3</tspan></text>
<text x="550.1" y="539.0" font-size="11.3"><tspan font-style="italic">J</tspan><tspan font-style="italic" font-size="8.5" dx="0.2" dy="3.8">R</tspan><tspan dy="-3.8" dx="0.5"> = 1.10 </tspan><tspan dy="1">×</tspan><tspan dy="-1"> 10</tspan><tspan font-size="8" dy="-3.4">8</tspan></text>
<text x="637.8" y="539.0" font-size="11.3"><tspan font-style="italic">J</tspan><tspan font-style="italic" font-size="8.5" dx="0.2" dy="3.8">P</tspan><tspan dy="-3.8" dx="0.5"> = 6.18 </tspan><tspan dy="1">×</tspan><tspan dy="-1"> 10</tspan><tspan font-size="8" dy="-3.4">6</tspan></text>
<text x="499.7" y="563.8" font-size="11.3"><tspan font-style="italic">μ</tspan><tspan font-size="8" dx="1.3" dy="-3.2">*</tspan><tspan font-style="italic" font-size="8.5" dx="-4.1" dy="7">v</tspan><tspan dy="-3.8" dx="0.5"> = 2</tspan></text>
<text x="550.1" y="564.7" font-size="11.3"><tspan font-style="italic">J</tspan><tspan font-style="italic" font-size="8.5" dx="0.2" dy="3.8">R</tspan><tspan dy="-3.8" dx="0.5"> = 8.21 </tspan><tspan dy="1">×</tspan><tspan dy="-1"> 10</tspan><tspan font-size="8" dy="-3.4">7</tspan></text>
<text x="637.8" y="564.7" font-size="11.3"><tspan font-style="italic">J</tspan><tspan font-style="italic" font-size="8.5" dx="0.2" dy="3.8">P</tspan><tspan dy="-3.8" dx="0.5"> = 4.63 </tspan><tspan dy="1">×</tspan><tspan dy="-1"> 10</tspan><tspan font-size="8" dy="-3.4">6</tspan></text>
<text x="499.7" y="584.8" font-size="11.3"><tspan font-style="italic">μ</tspan><tspan font-style="italic" font-size="8.5" dx="1.0" dy="3.3">v</tspan><tspan dy="-3.3" dx="0.5"> = 3</tspan></text>
<text x="550.1" y="585.7" font-size="11.3"><tspan font-style="italic">J</tspan><tspan font-style="italic" font-size="8.5" dx="0.2" dy="3.8">R</tspan><tspan dy="-3.8" dx="0.5"> = 9.24 </tspan><tspan dy="1">×</tspan><tspan dy="-1"> 10</tspan><tspan font-size="8" dy="-3.4">7</tspan></text>
<text x="637.8" y="585.7" font-size="11.3"><tspan font-style="italic">J</tspan><tspan font-style="italic" font-size="8.5" dx="0.2" dy="3.8">P</tspan><tspan dy="-3.8" dx="0.5"> = 5.21 </tspan><tspan dy="1">×</tspan><tspan dy="-1"> 10</tspan><tspan font-size="8" dy="-3.4">6</tspan></text>
<text x="538.2" y="360.3" font-size="16.8" text-anchor="start" >PC updating</text>
<text x="382.2" y="360.9" font-size="16">(<tspan font-style="italic" dx="0.6">d</tspan><tspan dx="0.8">)</tspan></text>
<text x="558.4" y="663.8" font-size="16.6">time, <tspan font-style="italic">t</tspan></text>
</svg></body></html>
